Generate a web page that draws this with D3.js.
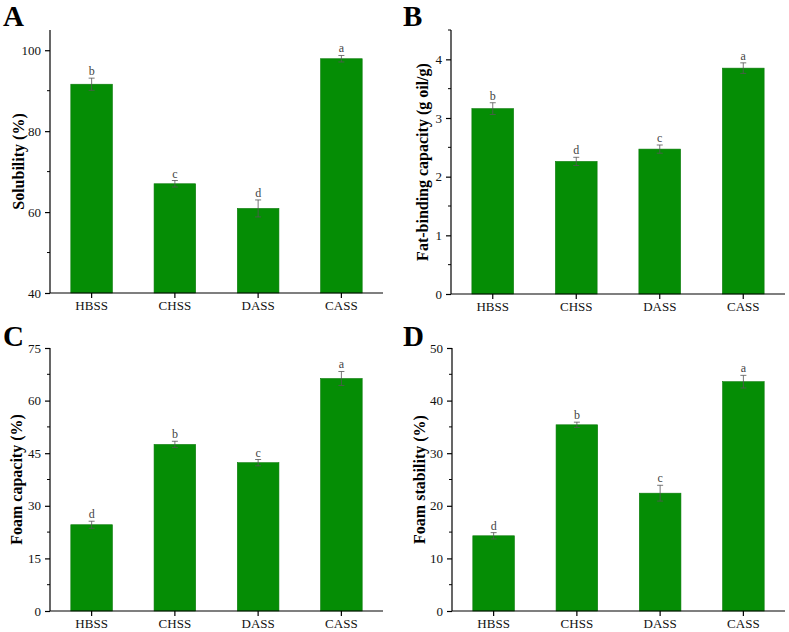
<!DOCTYPE html>
<html>
<head>
<meta charset="utf-8">
<script src="https://cdn.jsdelivr.net/npm/d3@7"></script>
<style>
  body { margin: 0; background: #fff; }
  text { font-family: "Liberation Serif", "Times New Roman", serif; }
</style>
</head>
<body>
<svg width="789" height="632"></svg>
<script>
// categories shared by all panels
var samples = ["HBSS", "CHSS", "DASS", "CASS"];

// A: solubility (%)
var solubility = [91.6, 67.0, 60.9, 97.9];
var solubilityErr = [1.5, 0.8, 2.1, 0.8];
var solubilityLetters = ["b", "c", "d", "a"];

// B: fat-binding capacity (g oil/g)
var fatBinding = [3.16, 2.26, 2.47, 3.85];
var fatBindingErr = [0.10, 0.07, 0.07, 0.09];
var fatBindingLetters = ["b", "d", "c", "a"];

// C: foam capacity (%)
var foamCapacity = [24.6, 47.5, 42.3, 66.3];
var foamCapacityErr = [1.0, 0.9, 0.9, 2.0];
var foamCapacityLetters = ["d", "b", "c", "a"];

// D: foam stability (%)
var foamStability = [14.3, 35.4, 22.4, 43.6];
var foamStabilityErr = [0.6, 0.5, 1.5, 1.2];
var foamStabilityLetters = ["d", "b", "c", "a"];

var svg = d3.select("svg");
var barColor = "#058d05";

function drawPanel(p) {
	var x = d3.scaleBand().domain(samples).range([p.x0, p.x1]).paddingInner(0.5).paddingOuter(0.25);
	var y = d3.scaleLinear().domain(p.domain).range([p.y1, p.y0]);
	var g = svg.append("g");

	// bars
	g.selectAll("rect.bar").data(p.values).enter()
		.append("rect")
		.attr("x", function(d, i){ return x(samples[i]); })
		.attr("y", function(d){ return y(d); })
		.attr("width", x.bandwidth())
		.attr("height", function(d){ return y(p.domain[0]) - y(d); })
		.style("fill", barColor)
		.style("stroke", "#0a7a0a")
		.style("stroke-width", 0.6);

	// error bars
	var cx = function(i){ return x(samples[i]) + x.bandwidth()/2; };
	p.values.forEach(function(v, i){
		var top = y(v + p.err[i]), bot = y(v - p.err[i]);
		g.append("line").attr("x1", cx(i)).attr("x2", cx(i)).attr("y1", top).attr("y2", bot)
			.style("stroke", "#555").style("stroke-width", 0.8);
		g.append("line").attr("x1", cx(i)-3).attr("x2", cx(i)+3).attr("y1", top).attr("y2", top)
			.style("stroke", "#555").style("stroke-width", 0.8);
		g.append("line").attr("x1", cx(i)-3).attr("x2", cx(i)+3).attr("y1", bot).attr("y2", bot)
			.style("stroke", "#555").style("stroke-width", 0.8);
		g.append("text").attr("x", cx(i)).attr("y", top - 3)
			.attr("text-anchor", "middle")
			.style("font-size", "12px").style("fill", "#444")
			.text(p.letters[i]);
	});

	// minor ticks on y
	var minor = d3.range(p.domain[0] + p.step/2, p.domain[1] + 1e-9, p.step);
	g.selectAll("line.minor").data(minor).enter()
		.append("line")
		.attr("x1", p.x0 - 3).attr("x2", p.x0)
		.attr("y1", function(d){ return y(d); }).attr("y2", function(d){ return y(d); })
		.style("stroke", "#000").style("stroke-width", 1);

	var yAxis = d3.axisLeft(y).tickValues(p.ticks).tickSize(5).tickPadding(4).tickFormat(d3.format("d"));
	var ya = g.append("g").attr("transform", "translate(" + p.x0 + ",0)").call(yAxis);
	ya.select(".domain").attr("d", "M0," + p.y0 + "V" + p.y1);

	var xAxis = d3.axisBottom(x).tickSize(5).tickPadding(3);
	var xa = g.append("g").attr("transform", "translate(0," + p.y1 + ")").call(xAxis);
	xa.select(".domain").attr("d", "M" + p.x0 + ",0H" + p.x1);

	[ya, xa].forEach(function(a){
		a.selectAll("text").style("font-family", "Liberation Serif").style("font-size", "13px").style("fill", "#111");
		a.selectAll("line, path").style("stroke", "#000").style("stroke-width", 1.2);
	});

	g.append("text")
		.attr("transform", "translate(" + p.titleX + "," + ((p.y0 + p.y1)/2) + ") rotate(-90)")
		.attr("text-anchor", "middle")
		.style("font-size", "16px").style("font-weight", "bold")
		.text(p.title);

	g.append("text").attr("x", p.labelX).attr("y", p.labelY)
		.style("font-size", "29px").style("font-weight", "bold")
		.text(p.label);
}

drawPanel({ x0: 50, x1: 383, y0: 30, y1: 293, domain: [40, 105], ticks: [40, 60, 80, 100], step: 20,
	values: solubility, err: solubilityErr, letters: solubilityLetters,
	title: "Solubility (%)", titleX: 24, label: "A", labelX: 3, labelY: 26 });

drawPanel({ x0: 451, x1: 785, y0: 30, y1: 294, domain: [0, 4.5], ticks: [0, 1, 2, 3, 4], step: 1,
	values: fatBinding, err: fatBindingErr, letters: fatBindingLetters,
	title: "Fat-binding capacity (g oil/g)", titleX: 428, label: "B", labelX: 403, labelY: 26 });

drawPanel({ x0: 50, x1: 383, y0: 348, y1: 611, domain: [0, 75], ticks: [0, 15, 30, 45, 60, 75], step: 15,
	values: foamCapacity, err: foamCapacityErr, letters: foamCapacityLetters,
	title: "Foam capacity (%)", titleX: 22, label: "C", labelX: 3, labelY: 346 });

drawPanel({ x0: 452, x1: 785, y0: 348, y1: 611, domain: [0, 50], ticks: [0, 10, 20, 30, 40, 50], step: 10,
	values: foamStability, err: foamStabilityErr, letters: foamStabilityLetters,
	title: "Foam stability (%)", titleX: 425, label: "D", labelX: 403, labelY: 346 });
</script>
</body>
</html>
